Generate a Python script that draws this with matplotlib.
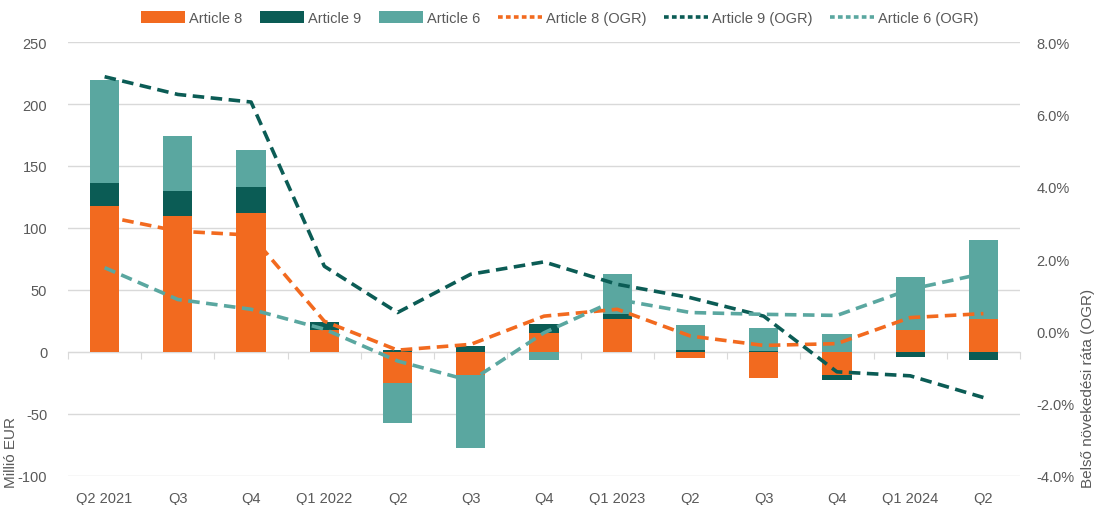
import matplotlib.pyplot as plt
import matplotlib.transforms as mtransforms
from matplotlib.patches import Patch
from matplotlib.lines import Line2D
import numpy as np

# ── Data ─────────────────────────────────────────────────────
QUARTERS = ["Q2 2021", "Q3", "Q4", "Q1 2022", "Q2", "Q3", "Q4",
            "Q1 2023", "Q2", "Q3", "Q4", "Q1 2024", "Q2"]

ART8 = [118, 110, 112, 17.7, -25, -18.5, 15.6, 27, -5, -21, -18.5, 17.7, 26.3]
ART9 = [18, 20, 21, 6.3, 2, 5, 7, 3.5, 2, 1, -4, -4.3, -6.5]
ART6 = [83, 44, 30, 0, -32.5, -59, -6.5, 32.5, 20, 18, 14.5, 42.5, 64]

OGR8 = [3.18, 2.77, 2.66, 0.28, -0.52, -0.36, 0.42, 0.61, -0.13, -0.39,
        -0.34, 0.38, 0.49]
OGR9 = [7.04, 6.55, 6.34, 1.80, 0.52, 1.58, 1.92, 1.30, 0.93, 0.42,
        -1.12, -1.23, -1.83]
OGR6 = [1.76, 0.88, 0.61, 0.06, -0.82, -1.37, -0.04, 0.88, 0.52, 0.47,
        0.44, 1.16, 1.60]

# ── Style ────────────────────────────────────────────────────
C_ART8 = "#F26A1F"
C_ART9 = "#0B5C55"
C_ART6 = "#5AA7A0"
TEXT = "#595959"
GRID = "#D9D9D9"
DASH = (0, (3.2, 1.8))

plt.rcParams.update({
    "font.family": ["Liberation Sans Narrow", "Liberation Sans", "DejaVu Sans"],
    "font.size": 10.5,
    "axes.unicode_minus": False,
})

fig = plt.figure(figsize=(10.95, 5.06), dpi=100)
ax = fig.add_axes([68 / 1095, 1 - 477 / 506, (1020 - 68) / 1095, (477 - 43) / 506])
ax2 = ax.twinx()

x = np.arange(len(QUARTERS))
width = 0.4

# stacked bars: positives stack up, negatives stack down
pos_base = np.zeros(len(x))
neg_base = np.zeros(len(x))
for vals, col in [(ART8, C_ART8), (ART9, C_ART9), (ART6, C_ART6)]:
    vals = np.array(vals, dtype=float)
    bottoms = np.where(vals >= 0, pos_base, neg_base)
    ax.bar(x, vals, width, bottom=bottoms, color=col, zorder=3, linewidth=0)
    pos_base = pos_base + np.clip(vals, 0, None)
    neg_base = neg_base + np.clip(vals, None, 0)

ax.set_ylim(-100, 250)
ax.set_xlim(-0.5, len(x) - 0.5)
ax.set_yticks(np.arange(-100, 251, 50))
ax.grid(axis="y", color=GRID, linewidth=1.0, zorder=0)
ax.set_axisbelow(True)
for s in ["top", "right", "left"]:
    ax.spines[s].set_visible(False)
ax.spines["bottom"].set_position(("data", 0))
ax.spines["bottom"].set_color(GRID)
ax.set_xticks(np.arange(len(x) + 1) - 0.5)
ax.set_xticklabels([])
ax.tick_params(axis="x", length=5, color=GRID, direction="out")
ax.tick_params(axis="y", length=0, colors=TEXT, labelsize=10.5, pad=15)

# category labels along the bottom edge
trans = mtransforms.blended_transform_factory(ax.transData, ax.transAxes)
for xi, lab in zip(x, QUARTERS):
    ax.text(xi, -0.035, lab, transform=trans, ha="center", va="top",
            fontsize=10.5, color=TEXT)

# OGR lines on the right axis
ax2.plot(x, OGR8, color=C_ART8, linestyle=DASH, linewidth=2.6, zorder=4)
ax2.plot(x, OGR9, color=C_ART9, linestyle=DASH, linewidth=2.6, zorder=4)
ax2.plot(x, OGR6, color=C_ART6, linestyle=DASH, linewidth=2.6, zorder=4)
ax2.set_ylim(-4, 8)
ax2.set_yticks(np.arange(-4, 8.1, 2))
ax2.set_yticklabels([f"{v:.1f}%" for v in np.arange(-4, 8.1, 2)])
ax2.tick_params(axis="y", length=0, colors=TEXT, labelsize=10.5, pad=12)
for s in ax2.spines.values():
    s.set_visible(False)

fig.text(11 / 1095, 1 - 488 / 506, "Millió EUR", rotation=90, ha="center",
         va="bottom", fontsize=11, color=TEXT)
fig.text(1088 / 1095, 1 - 488 / 506, "Belső növekedési ráta (OGR)", rotation=90,
         ha="center", va="bottom", fontsize=11, color=TEXT)

LDASH = (0, (1.3, 0.9))
handles = [
    Patch(facecolor=C_ART8, label="Article 8"),
    Patch(facecolor=C_ART9, label="Article 9"),
    Patch(facecolor=C_ART6, label="Article 6"),
    Line2D([], [], color=C_ART8, linestyle=LDASH, linewidth=2.6, label="Article 8 (OGR)"),
    Line2D([], [], color=C_ART9, linestyle=LDASH, linewidth=2.6, label="Article 9 (OGR)"),
    Line2D([], [], color=C_ART6, linestyle=LDASH, linewidth=2.6, label="Article 6 (OGR)"),
]
fig.legend(handles=handles, loc="center", bbox_to_anchor=(560 / 1095, 1 - 19 / 506),
           ncol=6, frameon=False, fontsize=10.5, labelcolor=TEXT,
           handlelength=3.0, handleheight=0.9, handletextpad=0.3, columnspacing=1.2)

fig.savefig("out.png", dpi=100, facecolor="white")
